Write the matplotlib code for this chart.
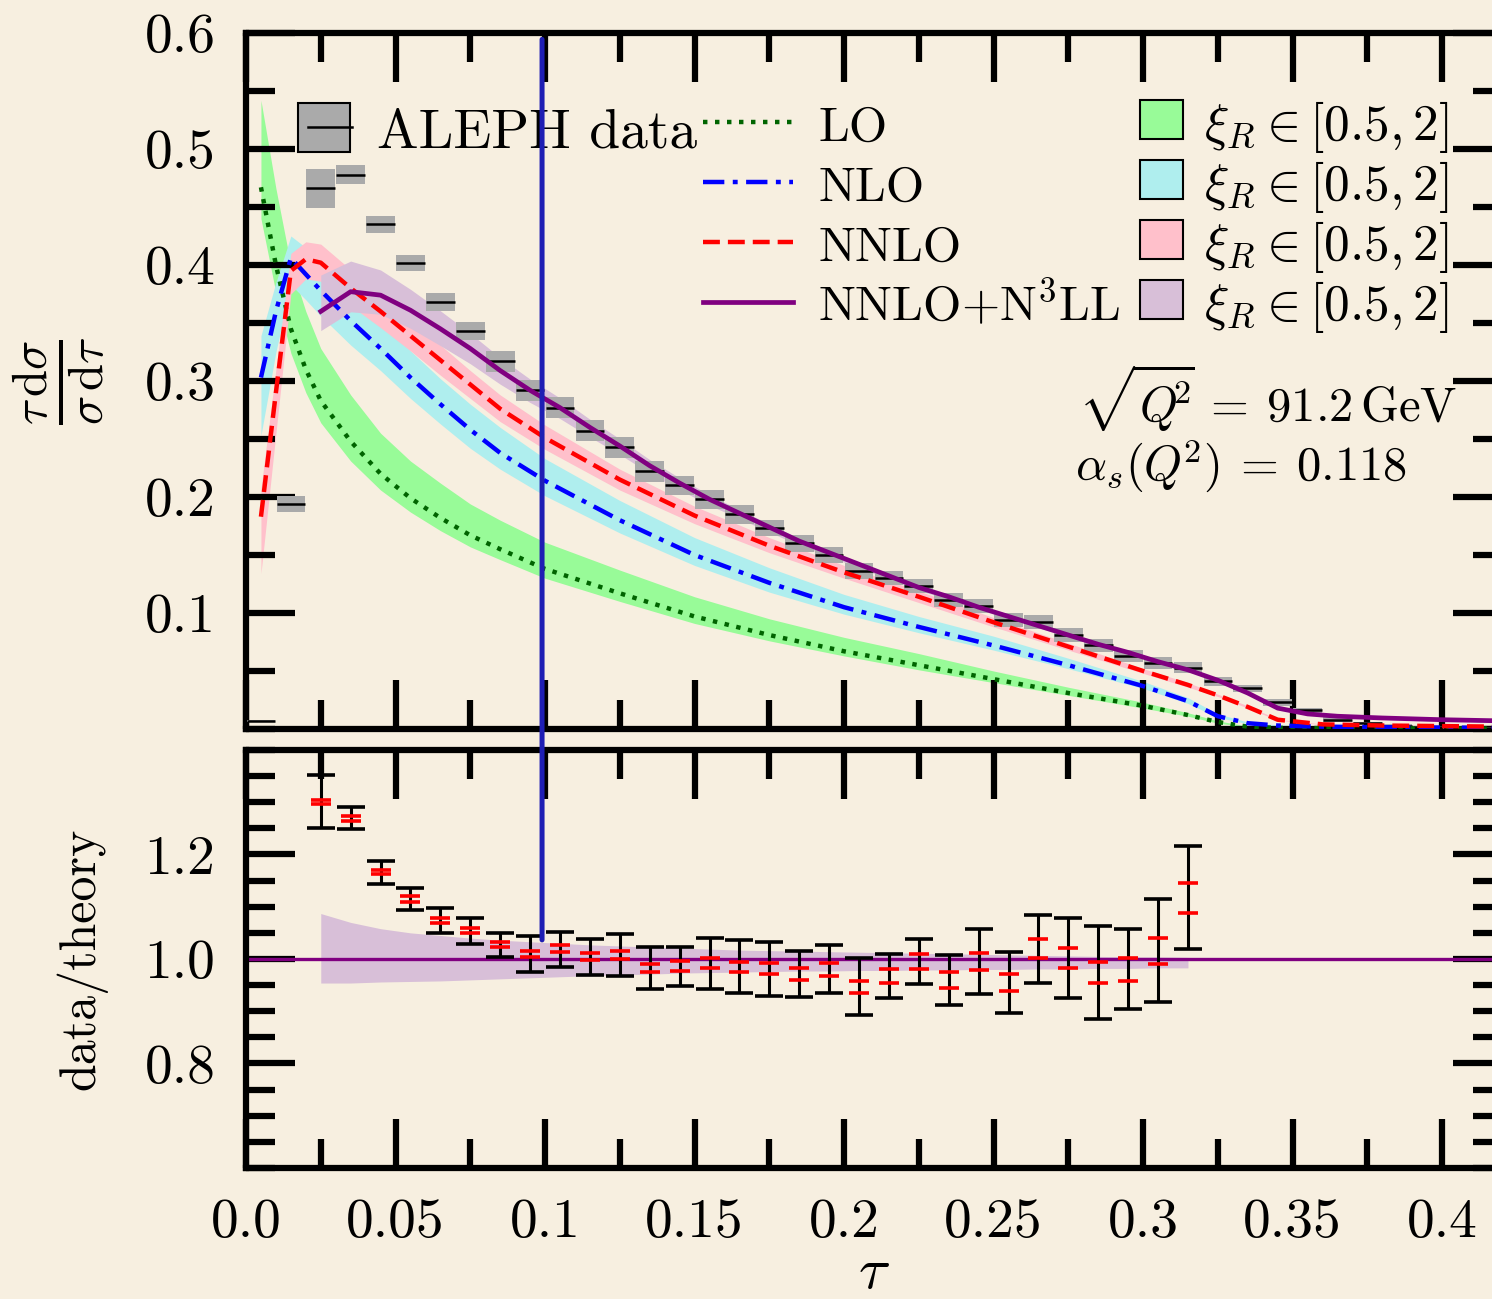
import matplotlib.pyplot as plt
from matplotlib.patches import Rectangle, ConnectionPatch
from matplotlib.lines import Line2D
from matplotlib.ticker import MultipleLocator, FixedLocator, FixedFormatter
import numpy as np

plt.rcParams['font.family'] = 'serif'
plt.rcParams['font.serif'] = ['cmr10']
plt.rcParams['mathtext.fontset'] = 'cm'
plt.rcParams['axes.formatter.use_mathtext'] = True

bg = '#f7efe0'
W, H = 1492, 1299

## ALEPH thrust data, bins of width 0.01
tau_data = [0.005, 0.015, 0.025, 0.035, 0.045, 0.055, 0.065, 0.075, 0.085, 0.095,
            0.105, 0.115, 0.125, 0.135, 0.145, 0.155, 0.165, 0.175, 0.185, 0.195,
            0.205, 0.215, 0.225, 0.235, 0.245, 0.255, 0.265, 0.275, 0.285, 0.295,
            0.305, 0.315, 0.325, 0.335, 0.345, 0.355, 0.365, 0.375, 0.385, 0.395,
            0.405, 0.415]
aleph = [0.007, 0.194, 0.466, 0.478, 0.435, 0.402, 0.368, 0.343, 0.317, 0.292,
         0.277, 0.257, 0.243, 0.222, 0.210, 0.198, 0.185, 0.173, 0.160, 0.150,
         0.136, 0.130, 0.123, 0.111, 0.106, 0.094, 0.092, 0.081, 0.072, 0.063,
         0.057, 0.053, 0.041, 0.035, 0.023, 0.016, 0.008, 0.005, 0.003, 0.002,
         0.001, 0.001]
aleph_err = [0.001, 0.007, 0.017, 0.008, 0.007, 0.007, 0.008, 0.008, 0.009, 0.009,
             0.009, 0.009, 0.009, 0.009, 0.008, 0.008, 0.008, 0.007, 0.007, 0.007,
             0.007, 0.006, 0.006, 0.006, 0.006, 0.006, 0.006, 0.006, 0.006, 0.005,
             0.005, 0.005, 0.004, 0.003, 0.003, 0.002, 0.002, 0.001, 0.001, 0.001,
             0.001, 0.001]

## fixed order predictions (central, lower, upper of the scale band)
tau_fo = [0.005, 0.01, 0.015, 0.02, 0.025, 0.035, 0.045, 0.055, 0.065, 0.075,
          0.085, 0.1, 0.125, 0.15, 0.175, 0.2, 0.225, 0.25, 0.275, 0.3,
          0.315, 0.325, 0.335, 0.345, 0.36, 0.38, 0.42]
lo = [0.467, 0.400, 0.345, 0.310, 0.283, 0.248, 0.220, 0.199, 0.182, 0.167,
      0.155, 0.138, 0.117, 0.097, 0.081, 0.067, 0.055, 0.043, 0.031, 0.020,
      0.012, 0.006, 0.002, 0.001, 0.0008, 0.0006, 0.0004]
lo_up = [0.542, 0.466, 0.400, 0.360, 0.328, 0.288, 0.255, 0.231, 0.212, 0.194,
         0.180, 0.161, 0.137, 0.114, 0.095, 0.079, 0.065, 0.050, 0.036, 0.023,
         0.014, 0.007, 0.0025, 0.0012, 0.001, 0.0007, 0.0005]
lo_dn = [0.440, 0.376, 0.324, 0.290, 0.264, 0.231, 0.206, 0.187, 0.171, 0.157,
         0.146, 0.130, 0.110, 0.091, 0.076, 0.063, 0.051, 0.040, 0.029, 0.018,
         0.011, 0.005, 0.0018, 0.0009, 0.0007, 0.0005, 0.0003]
nlo = [0.303, 0.360, 0.406, 0.392, 0.378, 0.352, 0.328, 0.303, 0.280, 0.258,
       0.238, 0.214, 0.180, 0.150, 0.126, 0.105, 0.088, 0.072, 0.055, 0.037,
       0.024, 0.011, 0.005, 0.003, 0.002, 0.0015, 0.001]
nlo_up = [0.339, 0.385, 0.425, 0.415, 0.402, 0.376, 0.352, 0.326, 0.302, 0.280,
          0.260, 0.233, 0.197, 0.165, 0.139, 0.116, 0.097, 0.080, 0.061, 0.041,
          0.027, 0.013, 0.006, 0.0035, 0.0025, 0.0018, 0.0012]
nlo_dn = [0.253, 0.325, 0.383, 0.370, 0.356, 0.331, 0.309, 0.285, 0.263, 0.242,
          0.224, 0.201, 0.169, 0.141, 0.118, 0.099, 0.083, 0.068, 0.052, 0.035,
          0.022, 0.010, 0.0045, 0.0027, 0.0018, 0.0013, 0.0009]
nnlo = [0.183, 0.290, 0.395, 0.405, 0.402, 0.380, 0.360, 0.339, 0.318, 0.297,
        0.276, 0.251, 0.215, 0.184, 0.158, 0.135, 0.114, 0.092, 0.071, 0.050,
        0.038, 0.029, 0.019, 0.008, 0.004, 0.003, 0.002]
nnlo_up = [0.207, 0.310, 0.410, 0.420, 0.418, 0.396, 0.375, 0.353, 0.331, 0.309,
           0.288, 0.262, 0.224, 0.192, 0.165, 0.141, 0.119, 0.096, 0.074, 0.052,
           0.040, 0.030, 0.020, 0.0085, 0.0043, 0.0032, 0.0021]
nnlo_dn = [0.134, 0.255, 0.375, 0.388, 0.386, 0.365, 0.346, 0.326, 0.305, 0.285,
           0.265, 0.241, 0.206, 0.177, 0.152, 0.130, 0.109, 0.088, 0.068, 0.048,
           0.036, 0.028, 0.018, 0.0075, 0.0037, 0.0028, 0.0019]

## matched NNLO+N3LL, band given relative to central (also used in ratio panel)
tau_res = [0.025, 0.035, 0.045, 0.055, 0.065, 0.075, 0.085, 0.095, 0.105, 0.115,
           0.125, 0.135, 0.145, 0.155, 0.165, 0.175, 0.185, 0.195, 0.205, 0.215,
           0.225, 0.235, 0.245, 0.255, 0.265, 0.275, 0.285, 0.295, 0.305, 0.315,
           0.325, 0.335, 0.345, 0.355, 0.365, 0.38, 0.40, 0.42]
n3ll = [0.360, 0.377, 0.374, 0.361, 0.345, 0.328, 0.309, 0.292, 0.277, 0.260,
        0.244, 0.227, 0.212, 0.198, 0.186, 0.174, 0.162, 0.152, 0.142, 0.132,
        0.122, 0.114, 0.105, 0.097, 0.089, 0.081, 0.073, 0.066, 0.058, 0.051,
        0.042, 0.031, 0.018, 0.013, 0.011, 0.0095, 0.008, 0.007]
nb = 30  # band known up to tau = 0.315
n3ll_rel_up = [1.087, 1.070, 1.058, 1.050, 1.045, 1.040, 1.036, 1.033, 1.030, 1.027,
               1.025, 1.023, 1.021, 1.019, 1.017, 1.016, 1.015, 1.014, 1.013, 1.012,
               1.011, 1.010, 1.009, 1.008, 1.007, 1.006, 1.005, 1.004, 1.004, 1.003]
n3ll_rel_dn = [0.954, 0.954, 0.956, 0.957, 0.958, 0.960, 0.962, 0.964, 0.966, 0.968,
               0.970, 0.971, 0.973, 0.974, 0.975, 0.976, 0.977, 0.977, 0.978, 0.978,
               0.979, 0.979, 0.980, 0.980, 0.981, 0.981, 0.982, 0.982, 0.983, 0.983]

## data/theory panel
ratio_hi = [1.352, 1.290, 1.187, 1.135, 1.098, 1.079, 1.050, 1.044, 1.052, 1.038,
            1.048, 1.023, 1.023, 1.041, 1.037, 1.033, 1.015, 1.027, 1.002, 1.010,
            1.038, 1.008, 1.058, 1.013, 1.085, 1.079, 1.063, 1.058, 1.115, 1.217]
ratio_lo = [1.250, 1.248, 1.144, 1.094, 1.050, 1.029, 1.004, 0.975, 0.985, 0.969,
            0.967, 0.942, 0.948, 0.942, 0.934, 0.929, 0.927, 0.934, 0.892, 0.925,
            0.952, 0.912, 0.933, 0.896, 0.954, 0.925, 0.885, 0.904, 0.917, 1.019]
ratio_red_a = [1.304, 1.273, 1.171, 1.120, 1.079, 1.060, 1.033, 1.015, 1.027, 1.012,
               1.015, 0.990, 0.996, 1.002, 0.994, 0.992, 0.983, 0.992, 0.958, 0.981,
               1.010, 0.975, 1.012, 0.971, 1.038, 1.021, 0.994, 1.002, 1.040, 1.146]
ratio_red_b = [1.296, 1.265, 1.162, 1.110, 1.069, 1.050, 1.023, 1.004, 1.013, 0.998,
               1.000, 0.975, 0.977, 0.983, 0.975, 0.971, 0.960, 0.967, 0.935, 0.954,
               0.981, 0.944, 0.979, 0.938, 1.002, 0.983, 0.954, 0.958, 0.990, 1.088]

xticks = [0.0, 0.05, 0.1, 0.15, 0.2, 0.25, 0.3, 0.35, 0.4]
xticklabels = ['0.0', '0.05', '0.1', '0.15', '0.2', '0.25', '0.3', '0.35', '0.4']

line_labels = ['LO', 'NLO', 'NNLO', r'NNLO+N$^3$LL']
line_colors = ['#006400', 'blue', 'red', 'purple']
line_styles = [(0, (1, 1.7)), (0, (4.8, 1.9, 1.1, 1.9)), (0, (3.8, 1.8)), '-']
band_colors = ['#98fb98', '#afeeee', '#ffc0cb', '#d8bfd8']
band_label = r'$\xi_R \in [0.5, 2]$'

fs = 40
lw_ax = 4.5


def fx(x):
    return x / W


def fy(y):
    return 1 - y / H


fig = plt.figure(figsize=(W / 100, H / 100), dpi=100)
fig.patch.set_facecolor(bg)
ax1 = fig.add_axes([0.16488, 0.4388, 0.8418, 0.5358])
ax2 = fig.add_axes([0.16488, 0.10085, 0.8418, 0.32179])

for ax in (ax1, ax2):
    ax.set_facecolor(bg)
    for s in ax.spines.values():
        s.set_linewidth(lw_ax)
    ax.set_xlim(0, 0.42)
    ax.xaxis.set_major_locator(FixedLocator(xticks))
    ax.xaxis.set_minor_locator(MultipleLocator(0.025))
    ax.yaxis.set_minor_locator(MultipleLocator(0.05))
    ax.tick_params(which='both', direction='in', top=True, right=True,
                   width=lw_ax, labelsize=fs)
    ax.tick_params(which='major', length=35, pad=22)
    ax.tick_params(which='minor', length=21)

# ---- top panel
t = np.array(tau_data)
a = np.array(aleph)
e = np.array(aleph_err)
ax1.bar(t, 2 * e, bottom=a - e, width=0.0096, color='#aaaaaa', zorder=3)
ax1.hlines(a, t - 0.0048, t + 0.0048, color='k', lw=1.8, zorder=4)

ax1.fill_between(tau_fo, lo_dn, lo_up, color=band_colors[0], lw=0, zorder=1)
ax1.fill_between(tau_fo, nlo_dn, nlo_up, color=band_colors[1], lw=0, zorder=1)
ax1.fill_between(tau_fo, nnlo_dn, nnlo_up, color=band_colors[2], lw=0, zorder=1)
c = np.array(n3ll[:nb])
ax1.fill_between(tau_res[:nb], c * np.array(n3ll_rel_dn), c * np.array(n3ll_rel_up),
                 color=band_colors[3], lw=0, zorder=1)

ax1.plot(tau_fo, lo, color=line_colors[0], lw=3.2, ls=line_styles[0], zorder=5)
ax1.plot(tau_fo, nlo, color=line_colors[1], lw=3.2, ls=line_styles[1], zorder=5)
ax1.plot(tau_fo, nnlo, color=line_colors[2], lw=3.2, ls=line_styles[2], zorder=5)
ax1.plot(tau_res, n3ll, color=line_colors[3], lw=3.4, zorder=5)

ax1.set_ylim(0, 0.6)
ax1.yaxis.set_major_locator(FixedLocator([0.1, 0.2, 0.3, 0.4, 0.5, 0.6]))
ax1.yaxis.set_major_formatter(FixedFormatter(['0.1', '0.2', '0.3', '0.4', '0.5', '0.6']))
ax1.tick_params(labelbottom=False)
ax1.set_ylabel(r'$\frac{\tau\,\mathrm{d}\sigma}{\sigma\,\mathrm{d}\tau}$', fontsize=50, labelpad=26)

# legend keys drawn by hand so the rows sit like the original
fig.add_artist(Rectangle((fx(298), fy(152)), fx(52), 49 / H, transform=fig.transFigure,
                         facecolor='#aaaaaa', edgecolor='k', lw=1.5))
fig.add_artist(Line2D([fx(308), fx(352)], [fy(127), fy(127)], transform=fig.transFigure,
                      color='k', lw=1.8))
fig.text(fx(377), fy(147), 'ALEPH data', fontsize=fs, va='baseline')

for i in range(4):
    yc = 122 + 60 * i
    fig.add_artist(Line2D([fx(703), fx(793)], [fy(yc), fy(yc)], transform=fig.transFigure,
                          color=line_colors[i], lw=3.4 if i == 3 else 3.2, ls=line_styles[i]))
    fig.text(fx(818), fy(yc + 19), line_labels[i], fontsize=35.5, va='baseline')
    fig.add_artist(Rectangle((fx(1140), fy(139 + 60 * i)), fx(43), 39 / H,
                             transform=fig.transFigure, facecolor=band_colors[i],
                             edgecolor='k', lw=1.5))
    fig.text(fx(1204), fy(140 + 60 * i), band_label, fontsize=37, va='baseline')

fig.text(fx(1078), fy(422), r'$\sqrt{Q^{\!\!2}\!}\:=\:91.2\,\mathrm{GeV}$', fontsize=35,
         ha='left', va='baseline')
fig.text(fx(1075), fy(480), r'$\alpha_s(Q^{\!2})\:=\:0.118$', fontsize=35,
         ha='left', va='baseline')

# ---- ratio panel
ax2.fill_between(tau_res[:nb], n3ll_rel_dn, n3ll_rel_up, color=band_colors[3], lw=0, zorder=1)
ax2.axhline(1.0, color='purple', lw=2.4, zorder=2)
hi = np.array(ratio_hi)
lw_ = np.array(ratio_lo)
mid = 0.5 * (hi + lw_)
ax2.errorbar(tau_res[:nb], mid, yerr=[mid - lw_, hi - mid], fmt='none', ecolor='k',
             elinewidth=2.2, capsize=10, capthick=2.6, zorder=3)
ax2.plot(tau_res[:nb], ratio_red_a, ls='none', marker='_', ms=14, mew=2.6, color='red', zorder=4)
ax2.plot(tau_res[:nb], ratio_red_b, ls='none', marker='_', ms=14, mew=2.6, color='red', zorder=4)

ax2.set_ylim(0.6, 1.4)
ax2.yaxis.set_major_locator(FixedLocator([0.8, 1.0, 1.2]))
ax2.yaxis.set_major_formatter(FixedFormatter(['0.8', '1.0', '1.2']))
ax2.xaxis.set_major_formatter(FixedFormatter(xticklabels))
ax2.set_ylabel(r'data/theory', fontsize=36, labelpad=27)
ax2.set_xlabel(r'$\tau$', fontsize=42, labelpad=0)

fig.align_ylabels([ax1, ax2])

# vertical marker at tau = 0.099 running across both panels
con = ConnectionPatch(xyA=(0.099, 0.5945), coordsA=ax1.transData,
                      xyB=(0.099, 1.0365), coordsB=ax2.transData,
                      color='#1e1eb4', lw=3.6, zorder=10)
fig.add_artist(con)

fig.savefig('out.png', dpi=100, facecolor=bg)
